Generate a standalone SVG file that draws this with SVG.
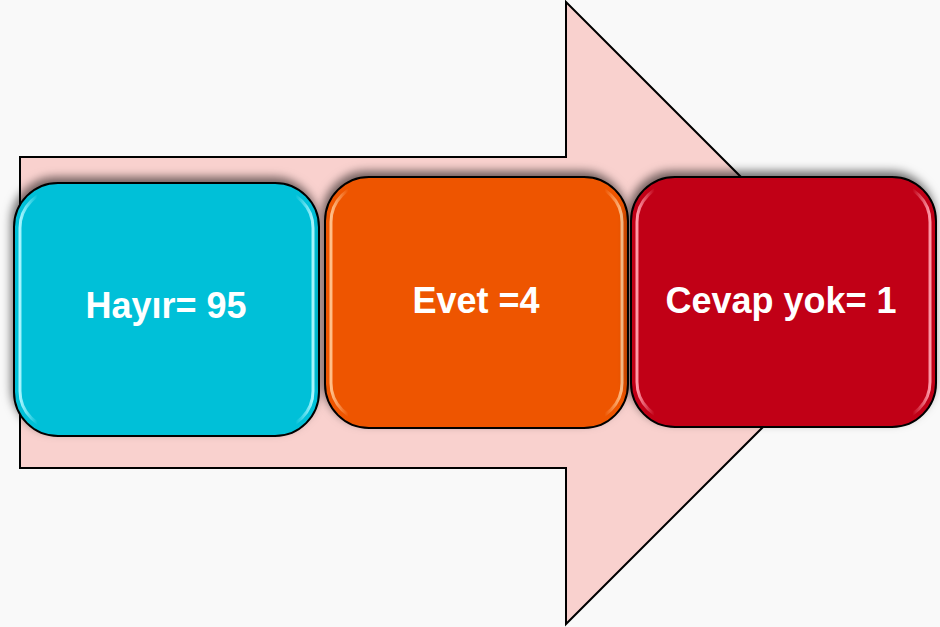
<svg xmlns="http://www.w3.org/2000/svg" width="940" height="627" viewBox="0 0 940 627">
<defs>
<style>
.lbl{font-family:"Liberation Sans",Arial,sans-serif;font-weight:bold;font-size:36px;fill:#ffffff;text-anchor:middle}
.box{stroke:#000;stroke-width:2}
.hl{fill:none;stroke-width:3}
</style>
<filter id="sh" x="-20%" y="-20%" width="140%" height="140%">
<feDropShadow dx="-2" dy="-5" stdDeviation="5" flood-color="#000" flood-opacity="0.55"/>
</filter>
<linearGradient id="hlC" x1="0" y1="0" x2="1" y2="0">
<stop offset="0" stop-color="#a8f6ff" stop-opacity="1"/>
<stop offset="0.06" stop-color="#a8f6ff" stop-opacity="0"/>
<stop offset="0.94" stop-color="#a8f6ff" stop-opacity="0"/>
<stop offset="1" stop-color="#a8f6ff" stop-opacity="1"/>
</linearGradient>
<linearGradient id="hlO" x1="0" y1="0" x2="1" y2="0">
<stop offset="0" stop-color="#ffc08a" stop-opacity="1"/>
<stop offset="0.06" stop-color="#ffc08a" stop-opacity="0"/>
<stop offset="0.94" stop-color="#ffc08a" stop-opacity="0"/>
<stop offset="1" stop-color="#ffc08a" stop-opacity="1"/>
</linearGradient>
<linearGradient id="hlR" x1="0" y1="0" x2="1" y2="0">
<stop offset="0" stop-color="#ff9aa8" stop-opacity="1"/>
<stop offset="0.06" stop-color="#ff9aa8" stop-opacity="0"/>
<stop offset="0.94" stop-color="#ff9aa8" stop-opacity="0"/>
<stop offset="1" stop-color="#ff9aa8" stop-opacity="1"/>
</linearGradient>
</defs>
<rect width="940" height="627" fill="#f9f9f9"/>
<g id="arrow">
<polygon points="20,157 566,157 566,2 877,313 566,624 566,468 20,468" fill="#f9d1ce" stroke="#000" stroke-width="2" stroke-linejoin="miter"/>
</g>
<g id="node-hayir">
<rect class="box" x="14" y="183" width="305" height="253" rx="44" fill="#00c0d8" filter="url(#sh)"/>
<rect class="hl" x="20" y="190" width="293" height="239" rx="38" stroke="url(#hlC)"/>
<text class="lbl" x="166" y="318">Hayır= 95</text>
</g>
<g id="node-evet">
<rect class="box" x="325" y="177" width="303" height="251" rx="44" fill="#ee5505" filter="url(#sh)"/>
<rect class="hl" x="331" y="184" width="291" height="237" rx="38" stroke="url(#hlO)"/>
<text class="lbl" x="476" y="313">Evet =4</text>
</g>
<g id="node-cevapyok">
<rect class="box" x="631" y="177" width="305" height="250" rx="44" fill="#c10019" filter="url(#sh)"/>
<rect class="hl" x="637" y="184" width="293" height="236" rx="38" stroke="url(#hlR)"/>
<text class="lbl" x="781" y="313">Cevap yok= 1</text>
</g>
<g id="connectors"></g>
</svg>
